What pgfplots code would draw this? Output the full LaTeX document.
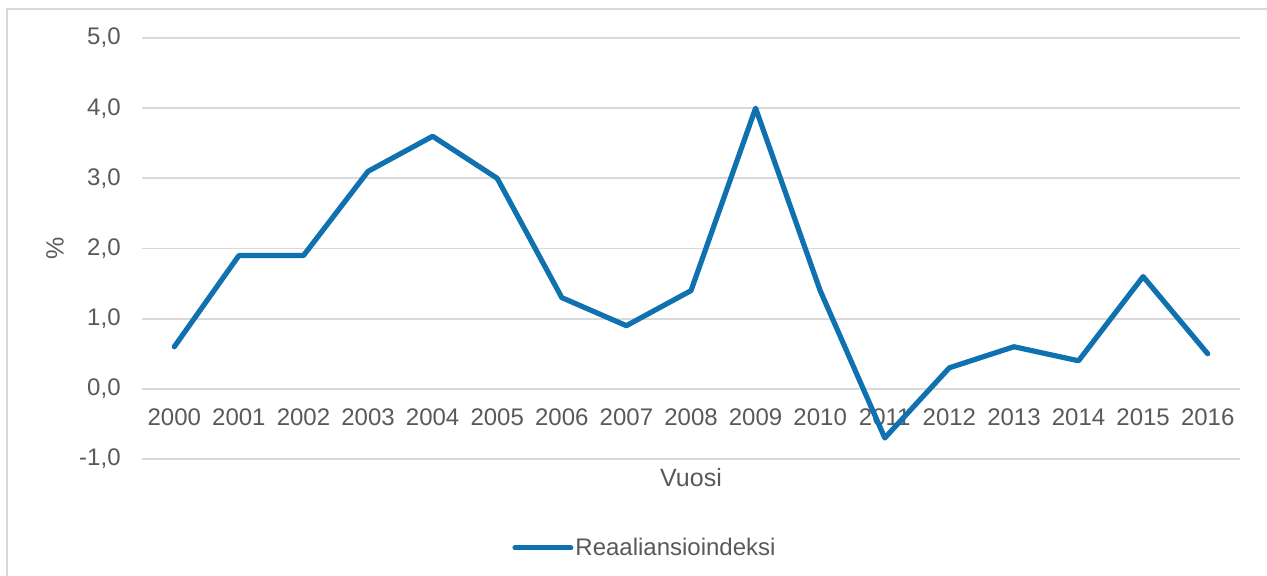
\documentclass[border=0pt]{standalone}
\usepackage{pgfplots}
\pgfplotsset{compat=1.18}
\usepackage{fontspec}
\setmainfont{Liberation Sans}
\definecolor{txt}{HTML}{595959}
\definecolor{grid}{HTML}{D9D9D9}
\definecolor{ser}{HTML}{0F71B0}
\begin{document}
\begin{tikzpicture}
\useasboundingbox (0pt,0pt) rectangle (633.5pt,-287.5pt);
\draw[grid, line width=0.8pt] (3.5pt,-4.5pt) rectangle (650pt,-300pt);
\begin{axis}[
  at={(71pt,-229.5pt)}, anchor=south west,
  scale only axis, width=549pt, height=210.5pt,
  xmin=-0.5, xmax=16.5, ymin=-1, ymax=5,
  ytick={-1,0,...,5},
  xtick={0,...,16},
  xticklabels={2000,2001,2002,2003,2004,2005,2006,2007,2008,2009,2010,2011,2012,2013,2014,2015,2016},
  axis x line*=middle, axis y line*=left,
  x axis line style={draw=grid, line width=0.9pt},
  y axis line style={draw=none},
  ymajorgrids, major grid style={draw=grid, line width=0.9pt},
  major tick length=0pt,
  font=\fontsize{12}{14}\selectfont,
  every tick label/.append style={text=txt},
  /pgf/number format/.cd, fixed, fixed zerofill, precision=1, use comma, assume math mode=true,
  /pgfplots/.cd,
  yticklabel style={anchor=east, inner sep=0pt, xshift=-10.5pt},
  xticklabel style={anchor=north, inner sep=0pt, yshift=-9.5pt},
  xlabel={Vuosi}, ylabel={\%},
  xlabel style={at={(axis description cs:0.5,-0.045)}, anchor=center, text=txt, font=\fontsize{12.5}{14}\selectfont},
  ylabel style={at={(axis description cs:-0.0792,0.5)}, anchor=center, rotate=0, text=txt, font=\fontsize{12.5}{14}\selectfont},
  legend style={at={(axis description cs:0.337,-0.211)}, anchor=west, draw=none, fill=none, inner sep=0pt, font=\fontsize{12}{14}\selectfont, text=txt, nodes={inner xsep=1pt}},
  legend image code/.code={\draw[ser, line width=2.5pt, line cap=round] (0pt,0pt) -- (28pt,0pt);},
  legend cell align=left,
]
\addplot[ser, line width=2.6pt, line join=round, line cap=round] coordinates {
(0,0.6) (1,1.9) (2,1.9) (3,3.1) (4,3.6) (5,3.0) (6,1.3) (7,0.9) (8,1.4) (9,4.0)
(10,1.4) (11,-0.7) (12,0.3) (13,0.6) (14,0.4) (15,1.6) (16,0.5)};
\addlegendentry{Reaaliansioindeksi}
\end{axis}
\end{tikzpicture}
\end{document}
